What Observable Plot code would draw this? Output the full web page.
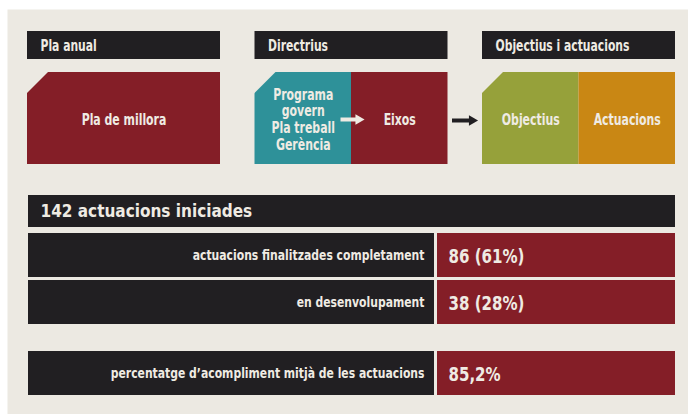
<!DOCTYPE html>
<html><head><meta charset="utf-8">
<script src="https://cdn.jsdelivr.net/npm/d3@7"></script>
<script src="https://cdn.jsdelivr.net/npm/@observablehq/plot@0.6"></script>
<style>body{margin:0;background:#fff} svg{display:block}</style>
</head><body><div id="chart"></div>
<script>
// ---- data ----
const panels = ["Pla anual", "Directrius", "Objectius i actuacions"];
const partPanel = [0, 1, 1, 2, 2];
const partIndex = [0, 0, 1, 0, 1];
const partCount = [1, 2, 2, 2, 2];
const partLabels = ["Pla de millora", "Programa\ngovern\nPla treball\nGerència", "Eixos", "Objectius", "Actuacions"];
const partColors = ["#841e27", "#2e9199", "#841e27", "#96a13a", "#c98714"];
const totalStarted = 142;
const totalLabel = "actuacions iniciades";
const rowLabels = ["actuacions finalitzades completament", "en desenvolupament", "percentatge d’acompliment mitjà de les actuacions"];
const rowCounts = [86, 38];
const rowShares = [61, 28];
const meanCompletion = 85.2;

// ---- styling / layout ----
const W = 688, H = 414;
const BG = "#ece9e2", DARK = "#211f22", RED = "#841e27", LIGHT = "#efebe3";
const FONT = "'DejaVu Sans Condensed', 'DejaVu Sans', sans-serif";
const pLeft = i => 27 + i * 227.5, pW = 193;
const hdrTop = 31, hdrBot = 59, bodyTop = 72, bodyBot = 164, cham = 20;

const headers = panels.map((p, i) => ({label: p, x1: pLeft(i), x2: pLeft(i) + pW}));
const parts = partLabels.map((label, k) => {
  const left = pLeft(partPanel[k]), w = pW / partCount[k];
  return {label, color: partColors[k], first: partIndex[k] === 0,
          x1: left + partIndex[k] * w, x2: left + (partIndex[k] + 1) * w};
});
const chamfers = parts.filter(d => d.first).flatMap((d, i) => [
  {id: i, x: d.x1 - 2, y: bodyTop - 2},
  {id: i, x: d.x1 + cham + 2, y: bodyTop - 2},
  {id: i, x: d.x1 - 2, y: bodyTop + cham + 2}
]);
const arrows = [
  {x1: parts[1].x2 - 11, x2: parts[1].x2 + 12.5, y: 119, color: LIGHT},
  {x1: headers[1].x2 + 4, x2: headers[2].x1 - 5, y: 120, color: DARK}
];

const fmtPct = v => d3.format(".1f")(v).replace(".", ",") + "%";
const rowTop = i => 233 + i * 47 + (i >= 2 ? 24 : 0), rowH = 44;
const rows = rowLabels.map((label, i) => ({
  label,
  value: i < rowCounts.length ? `${rowCounts[i]} (${rowShares[i]}%)` : fmtPct(meanCompletion),
  y1: rowTop(i), y2: rowTop(i) + rowH
}));
const splitX = 434, valX = 437, leftX = 28, rightX = 675;

const chart = Plot.plot({
  width: W, height: H,
  margin: 0,
  x: {domain: [0, W], range: [0, W], axis: null},
  y: {domain: [0, H], range: [0, H], axis: null},
  style: {fontFamily: FONT, background: "#fff"},
  marks: [
    Plot.frame({fill: BG, stroke: "none", insetLeft: 7, insetTop: 9}),
    // top headers
    Plot.rect(headers, {x1: "x1", x2: "x2", y1: hdrTop, y2: hdrBot, fill: DARK}),
    Plot.text(headers, {x: d => d.x1 + 13, y: (hdrTop + hdrBot) / 2 + 1, text: "label", textAnchor: "start",
      fill: LIGHT, fontWeight: "bold", fontSize: 15}),
    // bodies
    Plot.rect(parts, {x1: "x1", x2: "x2", y1: bodyTop, y2: bodyBot, fill: d => d.color}),
    Plot.line(chamfers, {x: "x", y: "y", z: "id", fill: BG, stroke: "none", curve: "linear-closed"}),
    Plot.text(parts, {x: d => (d.x1 + d.x2) / 2, y: (bodyTop + bodyBot) / 2 + 1, text: "label",
      fill: LIGHT, fontWeight: "bold", fontSize: 15, lineHeight: 1.13}),
    // arrows
    Plot.link(arrows, {x1: "x1", x2: d => d.x2 - 6, y1: "y", y2: "y", stroke: d => d.color, strokeWidth: 4}),
    Plot.dot(arrows, {x: d => d.x2 - 5.5, y: "y", symbol: "triangle", rotate: 90, r: 3.9, fill: d => d.color, stroke: "none"}),
    // bottom total bar
    Plot.rect([totalStarted], {x1: leftX, x2: rightX, y1: 195, y2: 227, fill: DARK}),
    Plot.text([totalStarted], {x: leftX + 12, y: 211.5, text: d => `${d} ${totalLabel}`, textAnchor: "start",
      fill: LIGHT, fontWeight: "bold", fontSize: 17}),
    // rows
    Plot.rect(rows, {x1: leftX, x2: splitX, y1: "y1", y2: "y2", fill: DARK}),
    Plot.rect(rows, {x1: valX, x2: rightX, y1: "y1", y2: "y2", fill: RED}),
    Plot.text(rows, {x: splitX - 10, y: d => (d.y1 + d.y2) / 2, text: "label", textAnchor: "end",
      fill: LIGHT, fontWeight: "bold", fontSize: 14}),
    Plot.text(rows, {x: valX + 11, y: d => (d.y1 + d.y2) / 2 + 1, text: "value", textAnchor: "start",
      fill: LIGHT, fontWeight: "bold", fontSize: 19})
  ]
});
document.getElementById("chart").appendChild(chart);

// condense the type horizontally to mimic a narrow bold face (one factor per text mark, in mark order)
const squeeze = [0.8, 0.81, 1, 0.86, 0.88];
d3.select(chart).selectAll('g[aria-label="text"]').each(function(_, gi) {
  const f = squeeze[gi] ?? 1;
  if (f === 1) return;
  d3.select(this).selectAll("text").each(function() {
    const m = this.transform.baseVal.consolidate();
    const tx = m ? m.matrix.e : 0, ty = m ? m.matrix.f : 0;
    const ax = this.x.baseVal.numberOfItems ? this.x.baseVal.getItem(0).value : 0;
    const ay = this.y.baseVal.numberOfItems ? this.y.baseVal.getItem(0).value : 0;
    this.removeAttribute("x");
    this.removeAttribute("y");
    this.setAttribute("transform", `translate(${tx + ax},${ty + ay}) scale(${f},1)`);
  });
});
</script>
</body></html>
